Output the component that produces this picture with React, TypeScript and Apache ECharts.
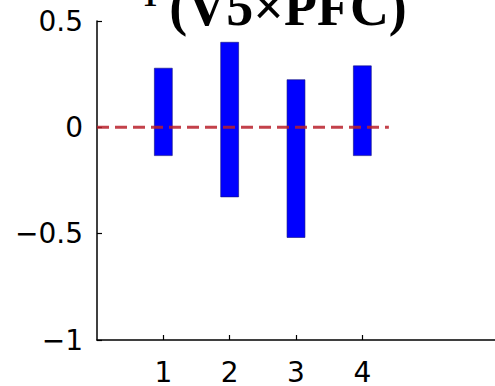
import React, { useEffect, useRef } from "react";
import * as echarts from "echarts";

const categories = [1, 2, 3, 4];
const lowValues = [-0.133, -0.327, -0.518, -0.133];
const highValues = [0.278, 0.4, 0.224, 0.289];
const yTicks = [-1, -0.5, 0, 0.5];
const xTicks = [1, 2, 3, 4];
const zeroLine = [
  [0, 0],
  [4.4, 0],
];
const titleText = "(V5×PFC)";
const superText = "1";

export default function App() {
  const ref = useRef<HTMLDivElement>(null);
  useEffect(() => {
    if (!ref.current) return;
    const chart = echarts.init(ref.current, null, { renderer: "svg" });
    const barData = categories.map((c, i) => [c, lowValues[i], highValues[i]]);
    const labelFont = "DejaVu Sans";
    chart.setOption({
      animation: false,
      backgroundColor: "#ffffff",
      grid: { left: 97, top: 21, bottom: 45, right: -10 },
      xAxis: {
        type: "value",
        min: 0,
        max: 6,
        interval: 1,
        splitLine: { show: false },
        axisLine: { show: true, onZero: false, lineStyle: { color: "#000", width: 1.5 } },
        axisTick: {
          show: true,
          inside: true,
          length: 5,
          customValues: xTicks,
          lineStyle: { color: "#000", width: 1.2 },
        },
        axisLabel: {
          show: true,
          customValues: xTicks,
          margin: 20,
          lineHeight: 24,
          color: "#000",
          fontFamily: labelFont,
          fontSize: 28,
        },
      },
      yAxis: {
        type: "value",
        min: -1,
        max: 0.5,
        interval: 0.5,
        splitLine: { show: false },
        axisLine: { show: true, lineStyle: { color: "#000", width: 1.5 } },
        axisTick: {
          show: true,
          inside: true,
          length: 5,
          customValues: yTicks,
          lineStyle: { color: "#000", width: 1.2 },
        },
        axisLabel: {
          show: true,
          customValues: yTicks,
          margin: 14,
          color: "#000",
          fontFamily: labelFont,
          fontSize: 28,
          formatter: (v: number) => String(v).replace("-", "\u2212"),
        },
      },
      series: [
        {
          type: "custom",
          data: barData,
          z: 2,
          renderItem: (params: any, api: any) => {
            const x = api.value(0);
            const lo = api.value(1);
            const hi = api.value(2);
            const p1 = api.coord([x, hi]);
            const p2 = api.coord([x, lo]);
            const w = api.size([0.27, 0])[0];
            return {
              type: "rect",
              shape: { x: p1[0] - w / 2, y: p1[1], width: w, height: p2[1] - p1[1] },
              style: { fill: "#0000ff", stroke: "#10107a", lineWidth: 0.6 },
            };
          },
        },
        {
          type: "line",
          data: zeroLine,
          z: 5,
          symbol: "none",
          lineStyle: { color: "#b8202a", width: 3, type: [12, 6], opacity: 0.85 },
        },
      ],
      graphic: [
        {
          type: "text",
          x: 288,
          y: 7,
          z: 10,
          style: {
            text: titleText,
            font: "bold 54px 'Liberation Serif'",
            fill: "#000",
            align: "center",
            verticalAlign: "middle",
          },
        },
        {
          type: "text",
          x: 150,
          y: -5,
          z: 10,
          style: {
            text: superText,
            font: "bold 30px 'Liberation Serif'",
            fill: "#000",
            align: "center",
            verticalAlign: "middle",
          },
        },
      ],
    });
    return () => chart.dispose();
  }, []);
  return (
    <div
      ref={ref}
      style={{ position: "fixed", left: 0, top: 0, width: 495, height: 386, background: "#fff" }}
    />
  );
}
